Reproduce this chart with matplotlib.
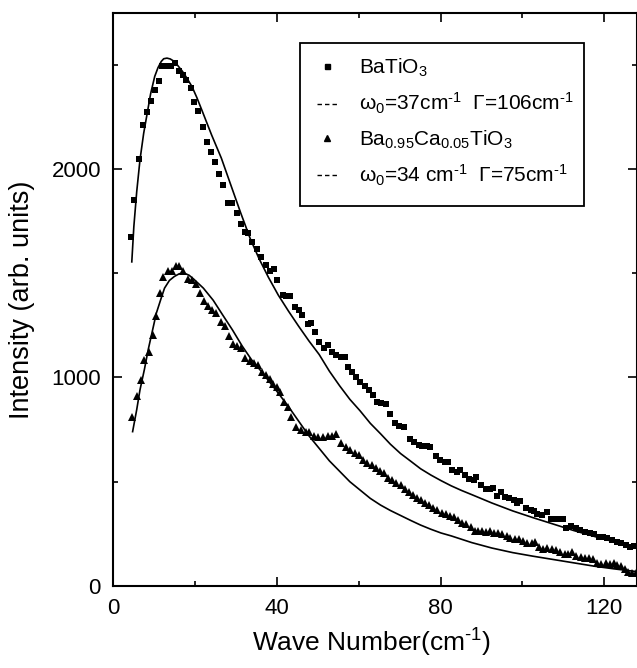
import matplotlib

matplotlib.use("Agg")
import matplotlib.pyplot as plt
from matplotlib.lines import Line2D
from matplotlib.patches import Rectangle
from matplotlib.ticker import MultipleLocator

# BaTiO3 measured spectrum (squares)
bto_x = [
    4.2, 5.1, 6.2, 7.2, 8.2, 9.1, 10.1, 11.1, 11.9, 12.9,
    14.0, 15.1, 16.0, 17.0, 17.8, 18.9, 19.8, 20.8, 21.8, 22.8,
    23.9, 24.8, 25.9, 26.8, 27.9, 29.1, 30.1, 31.1, 32.2, 33.0,
    34.0, 35.0, 36.2, 37.3, 38.2, 39.2, 40.1, 41.4, 42.3, 43.1,
    44.3, 45.3, 46.2, 47.6, 48.2, 49.3, 50.2, 51.4, 52.5, 53.5,
    54.5, 55.6, 56.6, 57.4, 58.4, 59.4, 60.4, 61.4, 62.5, 63.5,
    64.5, 65.4, 66.6, 67.6, 68.8, 69.9, 71.1, 72.4, 73.6, 74.7,
    75.5, 76.7, 77.5, 78.8, 79.8, 81.0, 81.8, 82.8, 84.1, 84.8,
    85.9, 87.0, 88.1, 88.7, 89.8, 91.0, 92.1, 92.9, 93.8, 94.7,
    95.7, 96.8, 97.9, 98.7, 99.5, 100.9, 102.0, 102.9, 103.6, 104.7,
    105.9, 107.0, 108.1, 108.8, 109.8, 110.7, 111.8, 113.0, 114.1, 115.3,
    116.4, 117.5, 118.7, 119.6, 120.7, 121.8, 123.0, 124.1, 125.2, 126.2,
    127.2,
]
bto_y = [
    1672, 1851, 2045, 2210, 2272, 2325, 2376, 2419, 2491, 2491,
    2491, 2507, 2470, 2448, 2424, 2387, 2320, 2278, 2200, 2128,
    2082, 2035, 1973, 1925, 1835, 1838, 1787, 1735, 1699, 1694,
    1647, 1615, 1576, 1538, 1512, 1519, 1468, 1396, 1392, 1388,
    1340, 1324, 1300, 1254, 1260, 1216, 1172, 1140, 1156, 1124,
    1108, 1100, 1097, 1050, 1028, 1002, 980, 959, 940, 916,
    884, 876, 873, 825, 780, 767, 762, 706, 692, 678,
    671, 670, 668, 622, 602, 594, 596, 554, 546, 556,
    530, 512, 508, 521, 482, 464, 466, 469, 432, 450,
    428, 421, 412, 400, 406, 375, 366, 360, 345, 341,
    355, 320, 322, 320, 322, 280, 288, 276, 269, 261,
    252, 247, 237, 236, 231, 221, 213, 205, 197, 189,
    190,
]

# Ba0.95Ca0.05TiO3 measured spectrum (triangles)
bcto_x = [
    4.6, 5.7, 6.7, 7.6, 8.7, 9.7, 10.5, 11.5, 12.2, 13.3,
    14.3, 15.3, 16.0, 17.1, 18.2, 19.2, 20.2, 21.1, 22.2, 23.1,
    24.2, 25.1, 26.4, 27.3, 28.3, 29.3, 30.2, 31.3, 32.2, 33.4,
    34.4, 35.4, 36.4, 37.4, 38.2, 39.1, 39.9, 40.7, 41.8, 42.6,
    43.5, 44.7, 45.9, 47.0, 47.9, 49.0, 50.1, 51.2, 52.4, 53.4,
    54.5, 55.6, 56.8, 57.9, 59.1, 60.1, 61.0, 62.1, 63.1, 64.3,
    65.2, 66.2, 67.2, 68.2, 69.2, 70.2, 71.2, 72.3, 73.3, 74.3,
    75.2, 76.2, 77.2, 78.2, 79.2, 80.3, 81.3, 82.3, 83.3, 84.3,
    85.3, 86.3, 87.3, 88.3, 89.2, 90.1, 91.1, 92.1, 93.1, 94.1,
    95.0, 96.1, 97.0, 98.1, 99.1, 100.1, 101.2, 102.3, 103.1, 104.0,
    105.0, 105.9, 107.1, 108.1, 109.1, 110.3, 111.2, 112.0, 113.1, 114.3,
    115.3, 116.3, 117.3, 118.3, 119.3, 120.3, 121.3, 122.3, 123.2, 124.2,
    125.0, 125.8, 126.8, 127.7,
]
bcto_y = [
    812, 911, 988, 1083, 1124, 1204, 1295, 1407, 1481, 1508,
    1512, 1535, 1532, 1511, 1471, 1468, 1447, 1404, 1368, 1343,
    1324, 1311, 1268, 1247, 1199, 1159, 1151, 1140, 1092, 1080,
    1070, 1060, 1026, 1012, 991, 970, 955, 928, 884, 860,
    812, 760, 748, 736, 738, 720, 713, 715, 720, 720,
    728, 684, 666, 652, 637, 628, 606, 590, 582, 565,
    552, 540, 520, 506, 495, 484, 466, 450, 434, 424,
    410, 398, 388, 375, 365, 350, 345, 334, 330, 318,
    302, 296, 285, 265, 262, 265, 260, 262, 254, 252,
    250, 240, 232, 224, 224, 218, 207, 205, 210, 186,
    175, 181, 176, 174, 165, 153, 151, 161, 146, 139,
    136, 132, 128, 110, 106, 108, 104, 108, 100, 96,
    80, 68, 63, 62,
]

# fitted curves (w0=37, G=106 and w0=34, G=75)
fit1_x = [
    4.5, 5.0, 5.7, 6.5, 7.4, 8.2, 9.1, 10.1, 10.9, 11.7,
    12.3, 13.1, 13.9, 14.9, 15.8, 16.9, 18.0, 19.2, 20.4, 21.6,
    24.0, 26.4, 28.7, 31.1, 33.5, 35.6, 37.9, 40.3, 42.8, 45.3,
    47.8, 50.3, 52.8, 55.3, 57.8, 60.3, 62.8, 65.3, 67.7, 70.2,
    72.7, 75.1, 77.6, 80.1, 82.6, 85.1, 87.6, 92.5, 97.6, 102.5,
    107.5, 112.5, 117.5, 122.4, 127.9,
]
fit1_y = [
    1554, 1723, 1890, 2043, 2170, 2259, 2360, 2443, 2485, 2515,
    2528, 2531, 2527, 2515, 2494, 2467, 2434, 2395, 2342, 2283,
    2163, 2051, 1923, 1790, 1663, 1570, 1480, 1395, 1318, 1245,
    1175, 1110, 1030, 960, 895, 840, 780, 730, 680, 635,
    598, 562, 532, 505, 480, 458, 438, 398, 360, 328,
    297, 266, 238, 212, 188,
]
fit2_x = [
    4.7, 5.7, 6.5, 7.6, 8.5, 9.5, 10.5, 11.6, 12.5, 13.7,
    14.9, 16.1, 17.3, 18.5, 19.6, 22.0, 24.4, 26.7, 29.1, 31.5,
    33.8, 36.2, 37.9, 40.3, 42.8, 45.3, 47.8, 50.3, 52.8, 55.3,
    57.8, 60.3, 62.8, 65.3, 67.7, 70.2, 72.7, 75.1, 77.6, 80.1,
    82.6, 85.1, 87.6, 92.5, 97.6, 102.5, 107.5, 112.5, 117.5, 122.4,
    127.9,
]
fit2_y = [
    740, 845, 940, 1040, 1132, 1220, 1308, 1375, 1428, 1465,
    1484, 1497, 1500, 1490, 1472, 1428, 1370, 1300, 1228, 1150,
    1084, 1028, 985, 925, 860, 790, 720, 660, 600, 550,
    500, 460, 420, 388, 362, 338, 314, 292, 272, 254,
    240, 224, 208, 182, 160, 143, 127, 111, 95, 82,
    69,
]

# hyphen (not minus) in the exponents, as in the original
LABELS = [
    "BaTiO$_3$",
    "ω$_0$=37cm$^{\u20101}$  Γ=106cm$^{\u20101}$",
    "Ba$_{0.95}$Ca$_{0.05}$TiO$_3$",
    "ω$_0$=34 cm$^{\u20101}$  Γ=75cm$^{\u20101}$",
]
XLABEL = "Wave Number(cm$^{\u20101}$)"
YLABEL = "Intensity (arb. units)"

plt.rcParams.update(
    {
        "font.family": ["Liberation Sans", "DejaVu Sans"],
        "mathtext.fontset": "custom",
        "mathtext.rm": "Liberation Sans",
        "mathtext.it": "Liberation Sans:italic",
        "mathtext.bf": "Liberation Sans:bold",
        "axes.linewidth": 1.5,
    }
)

fig = plt.figure(figsize=(6.37, 6.68), dpi=100)
ax = fig.add_axes([0.178, 0.1228, 0.822, 0.857])

ax.plot(fit1_x, fit1_y, color="black", lw=1.2, zorder=2)
ax.plot(fit2_x, fit2_y, color="black", lw=1.2, zorder=2)
ax.plot(bto_x, bto_y, ls="none", marker="s", ms=4.9, color="black", mew=0, zorder=3)
ax.plot(bcto_x, bcto_y, ls="none", marker="^", ms=5.6, color="black", mew=0, zorder=3)

ax.set_xlim(0, 128)
ax.set_ylim(0, 2745)
ax.xaxis.set_major_locator(MultipleLocator(40))
ax.xaxis.set_minor_locator(MultipleLocator(20))
ax.yaxis.set_major_locator(MultipleLocator(1000))
ax.yaxis.set_minor_locator(MultipleLocator(500))
ax.tick_params(which="both", direction="in", top=True, right=True, width=1.2)
ax.tick_params(which="major", length=6.5, labelsize=16, pad=9)
ax.tick_params(which="minor", length=3.5)

ax.set_xlabel(XLABEL, fontsize=19)
ax.set_ylabel(YLABEL, fontsize=19.5)
ax.xaxis.set_label_coords(0.493, -0.072)
ax.yaxis.set_label_coords(-0.15, 0.5)

# legend: hand-made frame, handles like the original (dashed fit keys)
ax.add_patch(
    Rectangle(
        (0.356, 0.664), 0.543, 0.284,
        transform=ax.transAxes, fill=False, lw=1.3, ec="black", zorder=4,
    )
)
handles = [
    Line2D([], [], ls="none", marker="s", ms=3.6, color="black"),
    Line2D([], [], ls=(0, (3.2, 2.2)), lw=1.0, color="black"),
    Line2D([], [], ls="none", marker="^", ms=4.2, color="black"),
    Line2D([], [], ls=(0, (3.2, 2.2)), lw=1.0, color="black"),
]
ax.legend(
    handles,
    LABELS,
    loc="upper left",
    bbox_to_anchor=(0.389, 0.9245),
    frameon=False,
    fontsize=15,
    borderpad=0,
    borderaxespad=0,
    handlelength=1.0,
    handletextpad=1.0,
    labelspacing=0.58,
)

fig.savefig("out.png", dpi=100)
